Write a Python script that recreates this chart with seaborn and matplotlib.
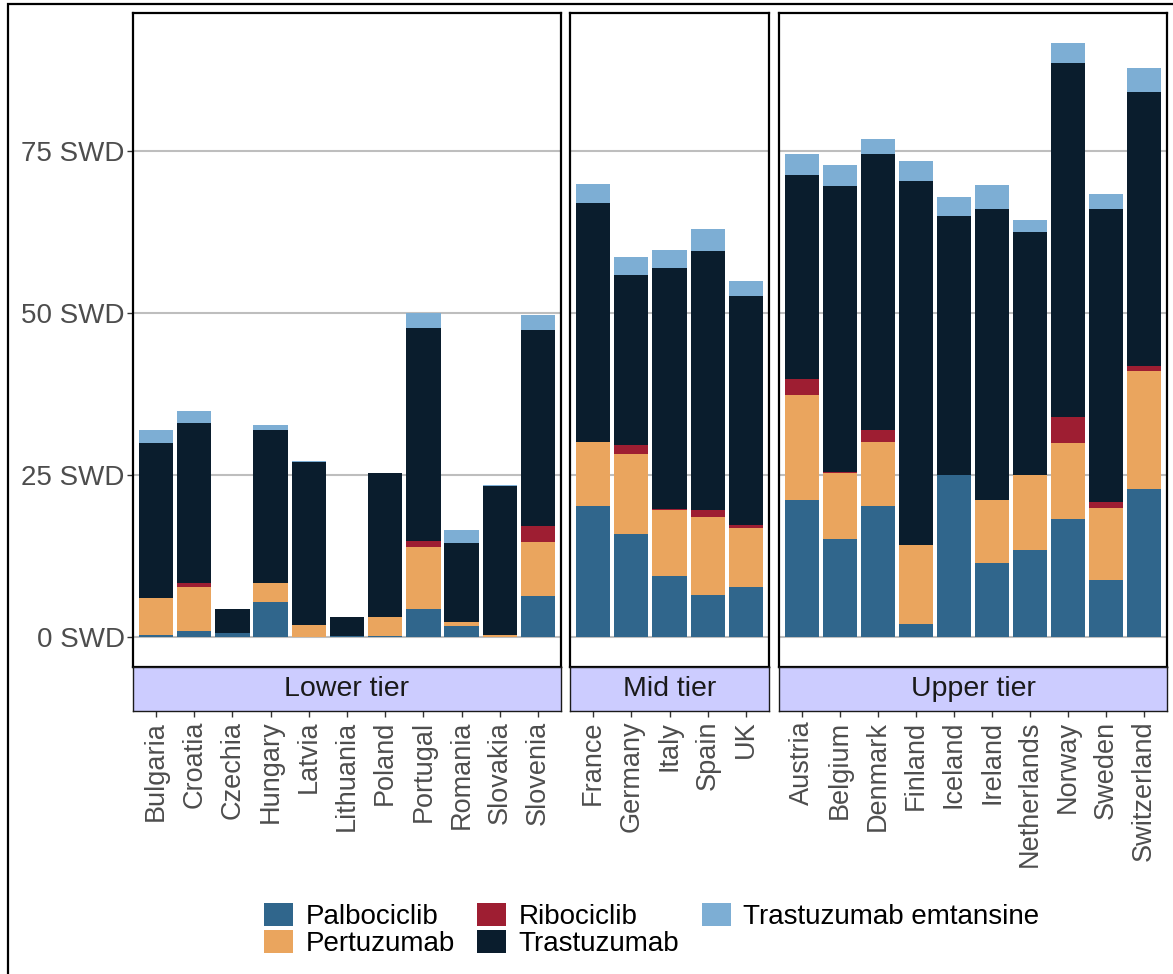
import numpy as np
import pandas as pd
import seaborn as sns
import matplotlib.pyplot as plt
from matplotlib.patches import Patch, Rectangle

# ============================================================
# 1. DATA (unit: SWD)
# ============================================================

drugs = ["Palbociclib", "Pertuzumab", "Ribociclib", "Trastuzumab", "Trastuzumab emtansine"]
colors = ["#30668C", "#EAA55E", "#9E1E32", "#0A1D2D", "#7DAED4"]

tiers = ["Lower tier", "Mid tier", "Upper tier"]

lower_countries = ["Bulgaria", "Croatia", "Czechia", "Hungary", "Latvia", "Lithuania",
                   "Poland", "Portugal", "Romania", "Slovakia", "Slovenia"]
lower_palbociclib = [0.3, 0.9, 0.6, 5.5, 0.1, 0.15, 0.15, 4.3, 1.8, 0.1, 6.4]
lower_pertuzumab = [5.7, 6.8, 0.0, 2.9, 1.85, 0.0, 3.05, 9.7, 0.6, 0.3, 8.3]
lower_ribociclib = [0.0, 0.6, 0.0, 0.0, 0.0, 0.0, 0.0, 0.8, 0.0, 0.0, 2.5]
lower_trastuzumab = [23.9, 24.7, 3.8, 23.5, 25.15, 3.05, 22.2, 32.9, 12.2, 23.0, 30.2]
lower_tdm1 = [2.0, 1.9, 0.0, 0.9, 0.15, 0.0, 0.0, 2.3, 2.0, 0.15, 2.3]

mid_countries = ["France", "Germany", "Italy", "Spain", "UK"]
mid_palbociclib = [20.2, 15.9, 9.4, 6.5, 7.7]
mid_pertuzumab = [9.9, 12.3, 10.2, 12.0, 9.1]
mid_ribociclib = [0.0, 1.5, 0.2, 1.1, 0.5]
mid_trastuzumab = [36.9, 26.1, 37.1, 40.0, 35.3]
mid_tdm1 = [2.9, 2.8, 2.8, 3.4, 2.3]

upper_countries = ["Austria", "Belgium", "Denmark", "Finland", "Iceland", "Ireland",
                   "Netherlands", "Norway", "Sweden", "Switzerland"]
upper_palbociclib = [21.1, 15.1, 20.3, 2.1, 25.0, 11.5, 13.4, 18.2, 8.9, 22.8]
upper_pertuzumab = [16.2, 10.2, 9.8, 12.2, 0.0, 9.7, 11.6, 11.7, 11.1, 18.2]
upper_ribociclib = [2.5, 0.2, 1.9, 0.0, 0.0, 0.0, 0.0, 4.0, 0.8, 0.9]
upper_trastuzumab = [31.5, 44.1, 42.6, 56.1, 40.0, 44.8, 37.5, 54.6, 45.2, 42.2]
upper_tdm1 = [3.2, 3.2, 2.2, 3.1, 2.9, 3.7, 1.8, 3.2, 2.4, 3.7]

yticks = [0, 25, 50, 75]
ytick_labels = ["0 SWD", "25 SWD", "50 SWD", "75 SWD"]

# ============================================================
# 2. LONG TABLE + CUMULATIVE STACK HEIGHTS
# ============================================================

tier_data = {
    "Lower tier": (lower_countries, [lower_palbociclib, lower_pertuzumab, lower_ribociclib,
                                     lower_trastuzumab, lower_tdm1]),
    "Mid tier": (mid_countries, [mid_palbociclib, mid_pertuzumab, mid_ribociclib,
                                 mid_trastuzumab, mid_tdm1]),
    "Upper tier": (upper_countries, [upper_palbociclib, upper_pertuzumab, upper_ribociclib,
                                     upper_trastuzumab, upper_tdm1]),
}

rows = []
for tier, (countries, series) in tier_data.items():
    for drug, vals in zip(drugs, series):
        for c, v in zip(countries, vals):
            rows.append({"tier": tier, "country": c, "drug": drug, "value": v})
df = pd.DataFrame(rows)
df["drug"] = pd.Categorical(df["drug"], categories=drugs, ordered=True)
df = df.sort_values(["tier", "country", "drug"])
df["top"] = df.groupby(["tier", "country"])["value"].cumsum()

ymax = df.groupby(["tier", "country"])["value"].sum().max()
pad = 0.05 * ymax

# ============================================================
# 3. FIGURE
# ============================================================

sns.set_theme(style="white")
plt.rcParams["font.family"] = ["Liberation Sans", "DejaVu Sans"]

W, H = 1173, 974
fig = plt.figure(figsize=(W / 100, H / 100), dpi=100)

panel_px = {"Lower tier": (133, 561), "Mid tier": (570, 769), "Upper tier": (779, 1167)}
p_top, p_bot, s_bot = 13, 667, 711

for tier in tiers:
    x0, x1 = panel_px[tier]
    countries = tier_data[tier][0]
    n = len(countries)

    ax = fig.add_axes([x0 / W, 1 - p_bot / H, (x1 - x0) / W, (p_bot - p_top) / H])
    sub = df[df["tier"] == tier]
    # draw from top segment down so each lower segment covers the one above
    for drug, col in reversed(list(zip(drugs, colors))):
        d = sub[sub["drug"] == drug]
        sns.barplot(data=d, x="country", y="top", order=countries, color=col,
                    saturation=1, width=0.9, errorbar=None, linewidth=0, ax=ax)
    ax.set_xlim(-0.6, n - 0.4)
    ax.set_ylim(-pad, ymax + pad)
    ax.set_xlabel("")
    ax.set_ylabel("")
    ax.set_xticks([])
    ax.set_yticks(yticks)
    ax.yaxis.grid(True, color="#BEBEBE", linewidth=1.5)
    ax.set_axisbelow(True)
    for s in ax.spines.values():
        s.set_color("black")
        s.set_linewidth(1.6)
    if tier == "Lower tier":
        ax.set_yticklabels(ytick_labels, fontsize=20, color="#4D4D4D")
        ax.tick_params(axis="y", length=4, width=1, color="#333333", pad=2, left=True)
    else:
        ax.set_yticklabels([])
        ax.tick_params(axis="y", length=0)

    # strip below panel
    sax = fig.add_axes([x0 / W, 1 - s_bot / H, (x1 - x0) / W, (s_bot - p_bot) / H])
    sax.set_facecolor("#CCCCFF")
    sax.set_xlim(-0.6, n - 0.4)
    sax.set_ylim(0, 1)
    sax.set_yticks([])
    sax.set_xticks(range(n))
    sax.set_xticklabels(countries, rotation=90, fontsize=19.5, color="#4D4D4D")
    sax.tick_params(axis="x", length=4, width=1, color="#333333", pad=3, bottom=True)
    for s in sax.spines.values():
        s.set_color("#1A1A1A")
        s.set_linewidth(1)
    sax.text(0.5, 0.5, tier, transform=sax.transAxes, ha="center", va="center",
             fontsize=20.5, color="#1A1A1A")

# outer border (plot background outline)
fig.add_artist(Rectangle((8 / W, -0.1), 1.2, 1 - 4 / H + 0.1, transform=fig.transFigure,
                         fill=False, edgecolor="black", linewidth=1.6))

# legend
handles = [Patch(facecolor=c, edgecolor="none", label=d) for d, c in zip(drugs, colors)]
fig.legend(handles=handles, ncol=3, loc="upper left", bbox_to_anchor=(264 / W, 1 - 903 / H),
           frameon=False, fontsize=20, labelcolor="black", handlelength=1.05,
           handleheight=0.9, handletextpad=0.45, labelspacing=0, columnspacing=0.8,
           borderpad=0, borderaxespad=0)

plt.savefig("out.png", dpi=100, facecolor="white")
